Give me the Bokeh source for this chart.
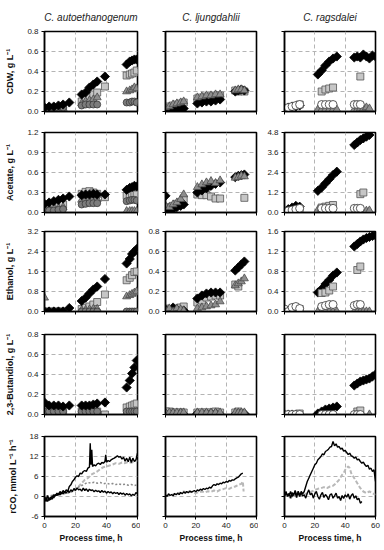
import numpy as np
from bokeh.plotting import figure
from bokeh.layouts import gridplot
from bokeh.models import FixedTicker, Range1d, PrintfTickFormatter
from bokeh.embed import file_html
from bokeh.resources import INLINE

FONT = "Liberation Sans"

TITLES = ["C. autoethanogenum", "C. ljungdahlii", "C. ragsdalei"]
YLABELS = ["CDW, g L\u207b\u00b9", "Acetate, g L\u207b\u00b9", "Ethanol, g L\u207b\u00b9",
           "2,3-Butandiol, g L\u207b\u00b9", "rCO, mmol L\u207b\u00b9 h\u207b\u00b9"]
XLABEL = "Process time, h"
X_TICKS = [0, 20, 40, 60]

TICKS_CDW = [0.0, 0.2, 0.4, 0.6, 0.8]
TICKS_AC_LOW = [0.0, 0.3, 0.6, 0.9, 1.2]
TICKS_AC_HIGH = [0.0, 1.2, 2.4, 3.6, 4.8]
TICKS_ET_CA = [0.0, 0.8, 1.6, 2.4, 3.2]
TICKS_ET_CL = [0.0, 0.2, 0.4, 0.6, 0.8]
TICKS_ET_CR = [0.0, 0.4, 0.8, 1.2, 1.6]
TICKS_BD = [0.0, 0.2, 0.4, 0.6, 0.8]
TICKS_RCO = [-6, 0, 6, 12, 18]

# ---------------- C. autoethanogenum ----------------
CA_T_DIA = [0, 3, 6, 9, 12, 16, 24, 26.5, 29, 31.5, 34, 39, 53, 55, 56.5, 58, 59.5]
CA_T_SQ = [0, 3, 6, 9, 12, 24, 26.5, 29, 31.5, 34, 39, 53, 55, 56.5, 58, 59.5]
CA_T = [0, 3, 6, 9, 12, 24, 26.5, 29, 31.5, 34, 53, 55, 56.5, 58, 59.5]

CA_DIA_CDW = [0.04, 0.05, 0.05, 0.06, 0.07, 0.09, 0.17, 0.19, 0.24, 0.27, 0.30, 0.35, 0.47, 0.50, 0.51, 0.52, 0.52]
CA_DIA_AC = [0.13, 0.15, 0.17, 0.19, 0.21, 0.24, 0.26, 0.27, 0.27, 0.28, 0.27, 0.27, 0.34, 0.37, 0.38, 0.40, 0.39]
CA_DIA_ET = [0.0, 0.0, 0.0, 0.0, 0.0, 0.14, 0.42, 0.55, 0.72, 0.88, 1.0, 1.30, 1.92, 2.10, 2.30, 2.40, 2.50]
CA_DIA_BD = [0.12, 0.09, 0.09, 0.09, 0.08, 0.09, 0.09, 0.09, 0.09, 0.10, 0.11, 0.12, 0.27, 0.34, 0.41, 0.47, 0.54]

CA_SQ_CDW = [0.01, 0.02, 0.03, 0.03, 0.03, 0.10, 0.12, 0.15, 0.17, 0.19, 0.25, 0.36, 0.37, 0.38, 0.39, 0.41]
CA_SQ_AC = [0.09, 0.10, 0.10, 0.11, 0.12, 0.28, 0.31, 0.32, 0.30, 0.28, 0.23, 0.25, 0.27, 0.28, 0.28, 0.27]
CA_SQ_ET = [0.0, 0.0, 0.0, 0.0, 0.0, 0.10, 0.15, 0.20, 0.28, 0.38, 0.68, 1.25, 1.35, 1.45, 1.58, 1.60]
CA_SQ_BD = [0.03, 0.03, 0.03, 0.03, 0.03, 0.03, 0.03, 0.03, 0.03, 0.03, 0.0, 0.07, 0.08, 0.09, 0.10, 0.11]

CA_TRI_CDW = [0.03, 0.03, 0.03, 0.03, 0.03, 0.08, 0.10, 0.11, 0.12, 0.14, 0.20, 0.21, 0.22, 0.24, 0.23]
CA_TRI_AC = [0.05, 0.06, 0.07, 0.07, 0.08, 0.19, 0.20, 0.21, 0.21, 0.20, 0.02, 0.02, 0.02, 0.02, 0.02]
CA_TRI_ET = [0.55, 0.0, 0.0, 0.0, 0.0, 0.05, 0.06, 0.08, 0.10, 0.10, 0.60, 0.65, 0.70, 0.75, 0.80]
CA_TRI_BD = [0.02, 0.02, 0.02, 0.02, 0.02, 0.02, 0.02, 0.02, 0.02, 0.02, 0.02, 0.02, 0.02, 0.02, 0.02]

CA_CIR_CDW = [0.04, 0.04, 0.04, 0.04, 0.04, 0.06, 0.07, 0.07, 0.07, 0.07, 0.09, 0.09, 0.10, 0.10, 0.09]
CA_CIR_AC = [0.02, 0.03, 0.03, 0.04, 0.05, 0.12, 0.13, 0.14, 0.14, 0.14, 0.17, 0.18, 0.19, 0.19, 0.18]
CA_CIR_ET = [0.0, 0.0, 0.0, 0.0, 0.0, 0.0, 0.0, 0.0, 0.0, 0.0, 0.0, 0.0, 0.0, 0.0, 0.0]
CA_CIR_BD = [0.03, 0.03, 0.03, 0.03, 0.03, 0.03, 0.03, 0.03, 0.03, 0.03, 0.03, 0.03, 0.03, 0.03, 0.03]

# ---------------- C. ljungdahlii ----------------
CL_T = [0, 2.5, 5, 7.5, 10, 12, 21, 24, 27, 30, 33, 36, 46, 48, 50, 52]

CL_DIA_CDW = [0.0, 0.01, 0.01, 0.02, 0.02, 0.03, 0.08, 0.09, 0.10, 0.10, 0.11, 0.12, 0.20, 0.21, 0.22, 0.21]
CL_DIA_AC = [0.25, 0.02, 0.05, 0.08, 0.10, 0.12, 0.30, 0.33, 0.36, 0.40, 0.43, 0.45, 0.53, 0.55, 0.56, 0.57]
CL_DIA_ET = [0.02, 0.0, 0.04, 0.02, 0.0, 0.01, 0.13, 0.16, 0.18, 0.19, 0.19, 0.19, 0.41, 0.44, 0.47, 0.50]
CL_DIA_BD = [0.01, 0.0, 0.01, 0.0, 0.01, 0.0, 0.01, 0.0, 0.01, 0.01, 0.01, 0.0, 0.0, 0.01, 0.01, 0.01]

CL_SQ_CDW = [0.03, 0.05, 0.06, 0.07, 0.08, 0.09, 0.13, 0.14, 0.15, 0.15, 0.16, 0.16, 0.21, 0.20, 0.21, 0.20]
CL_SQ_AC = [0.08, 0.06, 0.10, 0.13, 0.15, 0.20, 0.27, 0.26, 0.26, 0.24, 0.21, 0.21, None, None, None, 0.22]
CL_SQ_ET = [0.03, 0.02, 0.02, 0.03, 0.04, 0.05, 0.09, 0.11, 0.14, 0.15, 0.16, 0.16, 0.27, 0.25, None, None]
CL_SQ_BD = [0.03, 0.03, 0.02, 0.02, 0.02, 0.02, 0.02, 0.02, 0.02, 0.02, 0.03, 0.02, 0.02, 0.03, None, None]

CL_TRI_CDW = [0.04, 0.05, 0.07, 0.08, 0.09, 0.10, 0.14, 0.15, 0.16, 0.16, 0.17, 0.17, 0.21, 0.22, 0.22, 0.21]
CL_TRI_AC = [0.10, 0.08, 0.12, 0.15, 0.20, 0.27, 0.38, 0.42, 0.45, 0.47, 0.44, 0.48, 0.52, 0.53, 0.55, 0.54]
CL_TRI_ET = [0.01, 0.03, 0.0, 0.03, 0.02, 0.01, 0.03, 0.04, 0.05, 0.06, 0.07, 0.10, 0.26, 0.28, 0.30, 0.33]
CL_TRI_BD = [0.02, 0.02, 0.02, 0.02, 0.02, 0.02, 0.02, 0.02, 0.02, 0.02, 0.02, 0.02, 0.02, 0.02, 0.02, 0.02]

# ---------------- C. ragsdalei ----------------
CR_T = [0, 2.5, 5, 7.5, 10, 22, 24.5, 27, 29.5, 32, 34.5, 46, 48, 50, 52, 54, 56, 58, 60]

CR_DIA_CDW = [0.03, 0.04, 0.05, 0.05, 0.06, 0.37, 0.41, 0.46, 0.50, 0.53, 0.55, 0.54, 0.55, 0.54, 0.57, 0.55, 0.53, 0.56, 0.55]
CR_DIA_AC = [0.10, 0.20, 0.30, 0.40, 0.35, 1.30, 1.50, 1.75, 2.00, 2.25, 2.45, 4.05, 4.20, 4.35, 4.45, 4.55, 4.65, None, None]
CR_DIA_ET = [0.0, 0.0, 0.0, 0.0, 0.0, 0.38, 0.45, 0.55, 0.63, 0.72, 0.78, 1.30, 1.35, 1.40, 1.44, 1.47, 1.49, 1.51, 1.52]
CR_DIA_BD = [0.0, 0.0, 0.0, 0.0, 0.0, 0.01, 0.03, 0.05, 0.06, 0.07, 0.08, 0.29, 0.31, 0.33, 0.34, 0.35, 0.36, 0.38, 0.40]

CR_SQ_CDW = [None, None, None, None, 0.07, None, 0.20, 0.22, 0.23, 0.24, None, None, None, 0.35, None, None, None, None, None]
CR_SQ_AC = [None, None, None, None, 0.20, None, 0.30, 0.35, 0.40, 0.45, None, None, None, 1.10, 1.20, None, None, None, None]
CR_SQ_ET = [None, None, None, None, 0.05, None, 0.37, 0.38, 0.42, 0.50, None, None, 0.83, 0.90, None, None, None, None, None]
CR_SQ_BD = [None, None, None, None, 0.01, None, None, None, None, None, None, None, 0.03, 0.04, None, None, None, None, None]

CR_CIR_CDW = [0.03, 0.04, 0.05, 0.06, 0.07, None, 0.07, 0.07, 0.07, 0.07, None, 0.07, 0.07, 0.07, None, None, None, None, None]
CR_CIR_AC = [0.05, 0.10, 0.15, 0.20, 0.25, None, 0.25, 0.25, 0.25, 0.25, None, 0.25, 0.25, 0.25, None, None, None, None, None]
CR_CIR_ET = [0.05, 0.0, 0.08, 0.10, 0.06, None, 0.10, 0.12, 0.14, 0.14, None, 0.12, 0.14, 0.14, None, None, None, None, None]
CR_CIR_BD = [0.0, 0.0, 0.0, 0.0, 0.0, None, 0.0, 0.0, 0.0, 0.0, None, 0.0, 0.0, 0.0, None, None, None, None, None]

CR_TRI_CDW = [None, None, None, None, None, 0.02, 0.02, 0.02, 0.02, 0.02, 0.02, 0.02, 0.02, 0.03, 0.03, 0.04, 0.03, None, None]
CR_TRI_AC = [None, None, None, None, None, 0.15, 0.20, 0.20, None, None, None, None, None, None, None, 0.10, 0.12, None, None]
CR_TRI_ET = [None, None, None, None, None, 0.0, 0.0, 0.01, 0.0, 0.0, 0.0, 0.0, 0.0, 0.0, 0.0, 0.0, 0.0, None, None]
CR_TRI_BD = [None, None, None, None, None, None, None, None, None, None, None, None, None, None, None, None, 0.0, None, None]

# ---------------- CO uptake rates ----------------
CA_RCO_HI_T = [0, 1, 2, 3, 4, 5, 6, 7, 8, 9, 10, 11, 12, 13, 14, 15, 16, 17, 18, 19, 20, 21, 22, 23, 24, 25,
               26, 27, 28, 29, 29.5, 30, 30.5, 31, 32, 33, 34, 35, 36, 37, 38, 39, 39.5, 40, 41, 42, 43, 44,
               45, 46, 47, 48, 49, 50, 51, 52, 53, 54, 55, 56, 57, 58, 59, 60]
CA_RCO_HI = [-0.5, -1.5, 0.3, -1.2, -0.2, -0.8, 0.5, 0.2, 1.0, 0.4, 1.5, 0.8, 1.8, 1.2, 2.0, 1.6, 3.0, 3.5,
             4.5, 5.0, 5.8, 6.2, 6.0, 7.0, 6.8, 7.5, 7.8, 7.5, 8.5, 8.8, 16.0, 9.5, 14.0, 9.0, 9.5, 9.2, 9.8,
             10.0, 9.6, 10.2, 10.0, 10.5, 12.5, 10.3, 10.8, 10.5, 11.0, 11.3, 11.5, 11.8, 12.2, 11.8, 12.0,
             11.2, 11.8, 10.6, 11.5, 10.4, 11.8, 10.2, 11.5, 10.5, 11.0, 13.0]
CA_RCO_LO_T = list(range(0, 61))
CA_RCO_LO = [-1.0, -0.3, -1.5, -0.5, -1.0, 0.2, -0.4, 0.6, 0.3, 1.0,
             0.5, 1.3, 0.8, 1.5, 1.0, 1.8, 1.2, 2.0, 1.5, 2.4,
             1.8, 2.6, 2.0, 2.2, 1.6, 2.5, 1.8, 2.3, 1.5, 2.2,
             1.8, 2.0, 1.4, 1.9, 1.5, 1.7, 1.2, 1.8, 1.3, 1.6,
             1.0, 1.5, 1.1, 1.4, 0.8, 1.3, 0.9, 1.2, 0.6, 1.1,
             0.7, 1.0, 0.4, 0.9, 0.5, 0.8, 0.2, 0.7, 0.3, 1.2, 0.8]
CA_RCO_G_T = [0, 3, 6, 9, 12, 15, 18, 20, 22, 24, 26, 28, 30, 32, 34, 36, 38, 40, 42, 44, 46, 48, 50, 52, 54, 56, 58, 60]
CA_RCO_G1 = [0.2, 0.0, 0.5, 0.6, 1.0, 1.2, 1.5, 2.2, 3.0, 4.0, 5.0, 5.5, 6.5, 7.0, 7.5, 8.2, 8.8, 9.0, 9.3,
             9.6, 10.0, 9.8, 10.2, 10.0, 10.4, 10.1, 10.6, 10.8]
CA_RCO_G2 = [0.0, -0.5, 0.3, 0.5, 0.8, 1.0, 1.5, 2.0, 2.8, 3.3, 3.8, 4.2, 4.0, 4.3, 4.0, 4.2, 3.8, 4.0, 3.7,
             3.9, 3.6, 3.8, 3.5, 3.7, 3.4, 3.6, 3.3, 3.5]

CL_RCO_T = list(range(0, 52))
CL_RCO = [0.5, 0.0, 0.8, 0.3, 0.6, 0.2, 0.9, 0.5, 1.0, 0.6,
          1.2, 0.8, 1.4, 1.0, 1.5, 1.1, 1.6, 1.3, 1.5, 1.8,
          1.4, 2.0, 1.7, 2.2, 1.9, 2.4, 2.1, 2.5, 2.3, 2.8,
          2.5, 3.2, 3.6, 3.3, 3.8, 3.6, 4.0, 3.8, 4.3, 4.1,
          4.5, 4.3, 4.8, 4.6, 5.0, 4.9, 5.3, 5.6, 5.8, 6.3,
          6.8, 7.0]
CL_RCO_G_T = [0, 2, 4, 6, 8, 10, 12, 14, 16, 18, 20, 22, 24, 26, 28, 30, 32, 34, 36, 38, 40, 42, 44, 46, 48, 50, 51, 51.5]
CL_RCO_G = [0.0, 0.3, 0.5, 0.8, 1.0, 1.2, 1.5, 1.3, 1.6, 1.2,
            1.0, 1.3, 1.5, 1.2, 1.6, 1.4, 1.8, 1.5, 2.0, 2.2,
            2.5, 2.3, 2.8, 3.0, 3.5, 3.8, 4.5, 1.5]

CR_RCO_HI_T = list(range(0, 61))
CR_RCO_HI = [0.5, 1.5, 0.0, 1.0, -0.5, 1.2, 0.3, 1.8, 0.5, 1.0, 0.0, 1.5, 0.8,
             1.5, 3.0, 4.5, 5.5, 6.5, 7.5, 8.5, 9.5, 10.0, 11.0, 11.5, 12.0, 12.8, 12.5, 13.5, 13.8, 14.2,
             14.8, 15.0, 16.5,
             15.2, 15.8, 14.8, 15.0, 14.2, 14.5, 13.6, 13.8, 13.2, 12.6, 13.0, 12.2, 12.0, 11.5, 11.8, 11.0,
             11.2, 10.5, 10.0, 10.3, 9.5, 9.0, 9.4, 8.2, 8.5, 7.5, 8.0, 4.5]
CR_RCO_LO_T = list(range(0, 52))
CR_RCO_LO = [0.0, 1.0, 0.5, 0.2, 1.5, 0.0, 0.8, 1.2, -0.3, 1.6, 0.6, 1.0, 0.2,
             0.5, -0.5, 1.0, 2.0, 0.5, 1.0, -0.5, 0.8, 1.5, 0.0, -0.8, 0.5, 1.2, -0.3, 0.6, 0.0, -1.0,
             0.5, 0.8, -0.5, 0.2, 1.0, -0.5, 0.0, -1.2, 0.3, -0.6, 0.5, -0.2, 0.8, -0.8, 0.3, 0.8, -0.5,
             0.2, -1.0, -0.5, -2.0, -1.5]
CR_RCO_G_T = [0, 2, 4, 6, 8, 10, 12, 14, 16, 18, 20, 22, 24, 26, 28, 30, 32, 34, 36, 38, 39, 40, 41, 42, 43, 44,
              46, 48, 50, 52, 54, 56, 58, 60]
CR_RCO_G = [0.0, 0.5, -0.5, 0.3, 0.0, 0.5, 0.2, 0.8, 1.0, 1.5,
            2.0, 2.3, 2.5, 2.8, 2.5, 3.0, 3.2, 4.0, 5.0, 6.5,
            7.0, 8.0, 8.5, 9.0, 8.5, 7.0, 5.5, 4.0, 2.5, 1.5,
            1.0, 1.5, 1.0, 0.5]

# ---------------- styles ----------------
STY = {
    "dia": dict(marker="square", size=6.5, angle=np.pi / 4, fill_color="black", line_color="black", line_width=0.8),
    "sq": dict(marker="square", size=7, fill_color="#c6c6c6", line_color="#555555", line_width=0.8),
    "tri": dict(marker="triangle", size=8, fill_color="#8e8e8e", line_color="#4a4a4a", line_width=0.8),
    "cg": dict(marker="circle", size=7, fill_color="#7c7c7c", line_color="#3a3a3a", line_width=0.8),
    "cw": dict(marker="circle", size=8, fill_color="white", line_color="#303030", line_width=0.8),
}

SERIES = [
    [("sq", CA_T_SQ, [CA_SQ_CDW, CA_SQ_AC, CA_SQ_ET, CA_SQ_BD]),
     ("tri", CA_T, [CA_TRI_CDW, CA_TRI_AC, CA_TRI_ET, CA_TRI_BD]),
     ("cg", CA_T, [CA_CIR_CDW, CA_CIR_AC, CA_CIR_ET, CA_CIR_BD]),
     ("dia", CA_T_DIA, [CA_DIA_CDW, CA_DIA_AC, CA_DIA_ET, CA_DIA_BD])],
    [("sq", CL_T, [CL_SQ_CDW, CL_SQ_AC, CL_SQ_ET, CL_SQ_BD]),
     ("dia", CL_T, [CL_DIA_CDW, CL_DIA_AC, CL_DIA_ET, CL_DIA_BD]),
     ("tri", CL_T, [CL_TRI_CDW, CL_TRI_AC, CL_TRI_ET, CL_TRI_BD])],
    [("tri", CR_T, [CR_TRI_CDW, CR_TRI_AC, CR_TRI_ET, CR_TRI_BD]),
     ("dia", CR_T, [CR_DIA_CDW, CR_DIA_AC, CR_DIA_ET, CR_DIA_BD]),
     ("sq", CR_T, [CR_SQ_CDW, CR_SQ_AC, CR_SQ_ET, CR_SQ_BD]),
     ("cw", CR_T, [CR_CIR_CDW, CR_CIR_AC, CR_CIR_ET, CR_CIR_BD])],
]

LIGHT = dict(line_color="#b8b8b8", line_width=2, line_dash="4 2")
MID = dict(line_color="#8a8a8a", line_width=1.5, line_dash="2 2")
BLACK = dict(line_color="black", line_width=1.4)
LINES = [
    [(CA_RCO_G_T, CA_RCO_G1, LIGHT), (CA_RCO_G_T, CA_RCO_G2, MID),
     (CA_RCO_LO_T, CA_RCO_LO, BLACK), (CA_RCO_HI_T, CA_RCO_HI, BLACK)],
    [(CL_RCO_G_T, CL_RCO_G, LIGHT), (CL_RCO_T, CL_RCO, BLACK)],
    [(CR_RCO_G_T, CR_RCO_G, LIGHT), (CR_RCO_LO_T, CR_RCO_LO, BLACK), (CR_RCO_HI_T, CR_RCO_HI, BLACK)],
]

ROW_TICKS = [
    [TICKS_CDW, TICKS_CDW, TICKS_CDW],
    [TICKS_AC_LOW, TICKS_AC_LOW, TICKS_AC_HIGH],
    [TICKS_ET_CA, TICKS_ET_CL, TICKS_ET_CR],
    [TICKS_BD, TICKS_BD, TICKS_BD],
    [TICKS_RCO, TICKS_RCO, TICKS_RCO],
]
SHOW_YLAB = [
    [True, False, False],
    [True, False, True],
    [True, True, True],
    [True, False, False],
    [True, False, False],
]

# ---------------- layout (page is drawn from the top-left corner) ----------------
WIDTHS = [140, 118, 126]
LEFT = [44, 25, 26]
RIGHT = [3, 2, 9]
TOP = [31, 11, 10, 11, 11]
BOTTOM = [10, 9, 12, 11, 30]
FRAME_H = 80


def make_panel(r, c):
    ticks = ROW_TICKS[r][c]
    kw = dict(width=WIDTHS[c], height=TOP[r] + FRAME_H + BOTTOM[r],
              x_range=Range1d(0, 60), y_range=Range1d(ticks[0], ticks[-1]),
              output_backend="svg", toolbar_location=None,
              min_border_left=LEFT[c], min_border_right=RIGHT[c],
              min_border_top=TOP[r], min_border_bottom=BOTTOM[r])
    if r == 0:
        kw["title"] = TITLES[c]
    p = figure(**kw)
    p.background_fill_color = "white"
    p.border_fill_color = "white"
    p.outline_line_color = "black"
    p.outline_line_width = 1.6
    p.outline_line_alpha = 1.0
    if r == 0:
        p.title.align = "center"
        p.title.vertical_align = "top"
        p.title.text_font = FONT
        p.title.text_font_style = "italic"
        p.title.text_font_size = "10px"
        p.title.text_color = "#222222"
        p.title.standoff = 13

    for ax in (p.xaxis[0], p.yaxis[0]):
        ax.axis_line_color = "black"
        ax.axis_line_width = 1.4
        ax.major_tick_line_color = "black"
        ax.major_tick_in = 0
        ax.major_tick_out = 3
        ax.minor_tick_line_color = None
        ax.major_label_text_font = FONT
        ax.major_label_text_font_size = "8px"
        ax.major_label_text_color = "#222222"
        ax.axis_label_text_font = FONT
        ax.axis_label_text_font_style = "bold"
        ax.axis_label_text_color = "#111111"

    p.xaxis.ticker = FixedTicker(ticks=X_TICKS)
    if r == 4:
        p.xaxis.axis_label = XLABEL
        p.xaxis.axis_label_text_font_size = "8.5px"
        p.xaxis.major_label_standoff = 3
        p.xaxis.axis_label_standoff = 2
    else:
        p.xaxis.major_label_text_color = None
        p.xaxis.major_label_text_font_size = "1px"
        p.xaxis.major_label_standoff = 0

    p.yaxis.ticker = FixedTicker(ticks=ticks)
    p.yaxis.formatter = PrintfTickFormatter(format="%d" if r == 4 else "%.1f")
    if SHOW_YLAB[r][c]:
        p.yaxis.major_label_standoff = 3
    else:
        p.yaxis.major_label_text_color = None
        p.yaxis.major_label_text_font_size = "1px"
        p.yaxis.major_label_standoff = 0
    if c == 0:
        p.yaxis.axis_label = YLABELS[r]
        p.yaxis.axis_label_text_font_size = "9px"
        p.yaxis.axis_label_standoff = 9

    p.grid.grid_line_color = "#b4b4b4"
    p.grid.grid_line_dash = "4 3"
    p.grid.grid_line_width = 1

    if r < 4:
        for key, t, vals in SERIES[c]:
            y = np.array(vals[r], dtype=float)
            p.scatter(np.array(t, dtype=float), y, **STY[key])
    else:
        for t, v, sty in LINES[c]:
            p.line(np.array(t, dtype=float), np.array(v, dtype=float), **sty)
    return p


rows = [[make_panel(r, c) for c in range(3)] for r in range(5)]
grid = gridplot(rows, toolbar_location=None)

open("out.html", "w").write(file_html(grid, INLINE))
